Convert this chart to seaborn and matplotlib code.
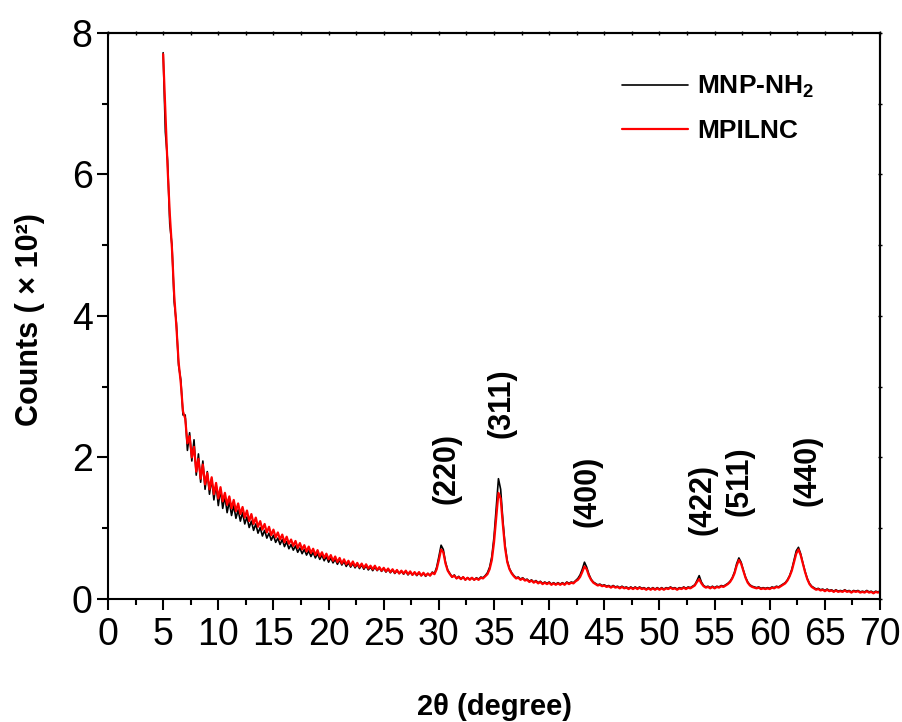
import numpy as np
import pandas as pd
import matplotlib
matplotlib.use('Agg')
import matplotlib.pyplot as plt
import seaborn as sns
from matplotlib.ticker import MultipleLocator

# scan grid of the diffractometer (2theta, degree)
two_theta = np.round(np.arange(5.0, 70.01, 0.2), 1)

# counts (x 10^2), 5 points per degree
mnp_nh2 = [
    7.72, 6.60, 6.20, 5.30, 5.00,  4.20, 3.90, 3.30, 3.10, 2.60,
    2.60, 2.10, 2.35, 1.95, 2.25,  1.75, 2.05, 1.65, 1.95, 1.55,
    1.80, 1.48, 1.70, 1.40, 1.62,  1.32, 1.55, 1.28, 1.45, 1.22,
    1.38, 1.18, 1.32, 1.14, 1.26,  1.10, 1.22, 1.06, 1.16, 1.01,
    1.10, 0.97, 1.06, 0.93, 1.01,  0.89, 0.97, 0.86, 0.93, 0.83,
    0.90, 0.80, 0.86, 0.77, 0.84,  0.74, 0.81, 0.71, 0.77, 0.69,
    0.75, 0.66, 0.72, 0.64, 0.70,  0.62, 0.68, 0.60, 0.66, 0.58,
    0.64, 0.56, 0.62, 0.54, 0.60,  0.52, 0.58, 0.51, 0.56, 0.49,
    0.55, 0.48, 0.53, 0.46, 0.51,  0.45, 0.50, 0.44, 0.49, 0.43,
    0.48, 0.42, 0.47, 0.41, 0.45,  0.40, 0.45, 0.40, 0.44, 0.39,
    0.43, 0.38, 0.42, 0.37, 0.41,  0.36, 0.40, 0.36, 0.39, 0.35,
    0.39, 0.34, 0.38, 0.34, 0.37,  0.33, 0.37, 0.33, 0.36, 0.32,
    0.36, 0.33, 0.38, 0.36, 0.45,  0.60, 0.76, 0.70, 0.52, 0.41,
    0.36, 0.31, 0.34, 0.29, 0.32,  0.28, 0.31, 0.27, 0.30, 0.28,
    0.30, 0.27, 0.30, 0.28, 0.31,  0.30, 0.33, 0.37, 0.45, 0.60,
    0.88, 1.28, 1.70, 1.55, 1.12,  0.76, 0.54, 0.43, 0.37, 0.33,
    0.30, 0.31, 0.28, 0.30, 0.27,  0.28, 0.25, 0.27, 0.24, 0.26,
    0.23, 0.25, 0.22, 0.24, 0.22,  0.24, 0.21, 0.23, 0.21, 0.23,
    0.21, 0.23, 0.21, 0.24, 0.22,  0.24, 0.23, 0.26, 0.29, 0.34,
    0.42, 0.52, 0.45, 0.35, 0.28,  0.24, 0.22, 0.20, 0.21, 0.19,
    0.20, 0.18, 0.19, 0.17, 0.19,  0.17, 0.18, 0.16, 0.18, 0.16,
    0.17, 0.15, 0.17, 0.15, 0.17,  0.15, 0.17, 0.15, 0.16, 0.14,
    0.16, 0.14, 0.16, 0.14, 0.16,  0.14, 0.16, 0.14, 0.16, 0.15,
    0.17, 0.15, 0.16, 0.14, 0.16,  0.15, 0.17, 0.15, 0.17, 0.16,
    0.18, 0.20, 0.26, 0.33, 0.24,  0.19, 0.17, 0.18, 0.16, 0.18,
    0.16, 0.18, 0.17, 0.19, 0.18,  0.20, 0.22, 0.25, 0.30, 0.38,
    0.50, 0.58, 0.52, 0.41, 0.31,  0.24, 0.20, 0.18, 0.17, 0.16,
    0.17, 0.15, 0.16, 0.15, 0.16,  0.15, 0.17, 0.16, 0.18, 0.17,
    0.19, 0.21, 0.23, 0.27, 0.33,  0.42, 0.55, 0.68, 0.73, 0.64,
    0.51, 0.39, 0.29, 0.22, 0.18,  0.16, 0.14, 0.15, 0.13, 0.14,
    0.12, 0.14, 0.12, 0.13, 0.11,  0.13, 0.11, 0.12, 0.11, 0.13,
    0.11, 0.12, 0.10, 0.12, 0.11,  0.12, 0.10, 0.11, 0.10, 0.12,
    0.10, 0.11, 0.09, 0.11, 0.10,  0.11,
]

mpilnc = [
    7.70, 6.90, 6.10, 5.45, 4.95,  4.30, 3.85, 3.35, 3.05, 2.65,
    2.55, 2.20, 2.30, 2.00, 2.15,  1.80, 1.98, 1.70, 1.90, 1.62,
    1.78, 1.55, 1.72, 1.48, 1.64,  1.42, 1.58, 1.38, 1.50, 1.33,
    1.45, 1.28, 1.40, 1.24, 1.35,  1.20, 1.30, 1.15, 1.25, 1.10,
    1.20, 1.06, 1.15, 1.02, 1.10,  0.98, 1.06, 0.94, 1.02, 0.90,
    0.98, 0.87, 0.94, 0.84, 0.91,  0.80, 0.88, 0.78, 0.84, 0.75,
    0.82, 0.72, 0.79, 0.70, 0.76,  0.67, 0.74, 0.65, 0.71, 0.62,
    0.69, 0.60, 0.66, 0.58, 0.64,  0.56, 0.62, 0.54, 0.60, 0.52,
    0.58, 0.50, 0.56, 0.49, 0.54,  0.47, 0.53, 0.46, 0.51, 0.45,
    0.50, 0.44, 0.49, 0.43, 0.47,  0.42, 0.47, 0.41, 0.45, 0.40,
    0.44, 0.39, 0.43, 0.38, 0.42,  0.37, 0.41, 0.36, 0.40, 0.36,
    0.40, 0.35, 0.39, 0.34, 0.38,  0.34, 0.38, 0.33, 0.37, 0.33,
    0.36, 0.33, 0.37, 0.35, 0.42,  0.55, 0.70, 0.66, 0.50, 0.40,
    0.35, 0.31, 0.33, 0.29, 0.31,  0.28, 0.31, 0.27, 0.30, 0.27,
    0.30, 0.27, 0.29, 0.27, 0.30,  0.29, 0.32, 0.35, 0.42, 0.55,
    0.80, 1.15, 1.50, 1.42, 1.05,  0.72, 0.52, 0.42, 0.36, 0.32,
    0.29, 0.30, 0.27, 0.29, 0.26,  0.27, 0.24, 0.26, 0.23, 0.25,
    0.22, 0.24, 0.21, 0.23, 0.21,  0.23, 0.20, 0.22, 0.20, 0.22,
    0.20, 0.22, 0.20, 0.23, 0.21,  0.23, 0.22, 0.25, 0.27, 0.31,
    0.38, 0.46, 0.42, 0.33, 0.27,  0.23, 0.21, 0.19, 0.20, 0.18,
    0.19, 0.17, 0.18, 0.16, 0.18,  0.16, 0.17, 0.15, 0.17, 0.15,
    0.16, 0.14, 0.16, 0.14, 0.16,  0.14, 0.16, 0.14, 0.15, 0.13,
    0.15, 0.13, 0.15, 0.13, 0.15,  0.13, 0.15, 0.13, 0.15, 0.14,
    0.16, 0.14, 0.15, 0.13, 0.15,  0.14, 0.16, 0.14, 0.16, 0.15,
    0.17, 0.19, 0.24, 0.28, 0.22,  0.18, 0.16, 0.17, 0.15, 0.17,
    0.15, 0.17, 0.16, 0.18, 0.17,  0.19, 0.21, 0.24, 0.29, 0.36,
    0.47, 0.55, 0.50, 0.40, 0.30,  0.23, 0.19, 0.17, 0.16, 0.15,
    0.16, 0.14, 0.15, 0.14, 0.15,  0.14, 0.16, 0.15, 0.17, 0.16,
    0.18, 0.20, 0.22, 0.26, 0.32,  0.40, 0.52, 0.64, 0.70, 0.62,
    0.50, 0.38, 0.28, 0.21, 0.17,  0.15, 0.13, 0.14, 0.12, 0.13,
    0.11, 0.13, 0.11, 0.12, 0.10,  0.12, 0.10, 0.11, 0.10, 0.12,
    0.10, 0.11, 0.09, 0.11, 0.10,  0.11, 0.09, 0.10, 0.09, 0.11,
    0.09, 0.10, 0.08, 0.10, 0.09,  0.10,
]

# Miller indices of the spinel reflections and where their labels sit
peak_labels = ['(220)', '(311)', '(400)', '(422)', '(511)', '(440)']
peak_x = [30.7, 35.7, 43.5, 53.9, 57.3, 63.4]
peak_y = [1.34, 2.28, 1.02, 0.91, 1.17, 1.31]

df = pd.DataFrame({'two_theta': two_theta, 'MNP-NH2': mnp_nh2, 'MPILNC': mpilnc})

sns.set_style("ticks")
plt.rcParams['font.family'] = ['Liberation Sans', 'DejaVu Sans']
plt.rcParams['mathtext.default'] = 'regular'
plt.rcParams['text.color'] = 'black'
plt.rcParams['axes.labelcolor'] = 'black'
plt.rcParams['xtick.color'] = 'black'
plt.rcParams['ytick.color'] = 'black'

fig = plt.figure(figsize=(9.03, 7.22), dpi=100)
ax = fig.add_axes([0.1196, 0.1704, 0.855, 0.784])

sns.lineplot(data=df, x='two_theta', y='MNP-NH2', color='black', lw=1.2,
             label='MNP-NH$_2$', ax=ax)
sns.lineplot(data=df, x='two_theta', y='MPILNC', color='#ff0000', lw=1.6,
             label='MPILNC', ax=ax)

for lab, px, py in zip(peak_labels, peak_x, peak_y):
    ax.text(px, py, lab, rotation=90, ha='center', va='bottom',
            fontsize=22, fontweight='bold', color='black')

ax.set_xlim(0, 70)
ax.set_ylim(0, 8)
ax.set_xticks(range(0, 71, 5))
ax.set_yticks(range(0, 9, 2))
ax.xaxis.set_minor_locator(MultipleLocator(2.5))
ax.yaxis.set_minor_locator(MultipleLocator(1))

for s in ax.spines.values():
    s.set_visible(True)
    s.set_linewidth(1.5)
    s.set_color('black')

ax.tick_params(which='major', direction='out', length=8, width=1.5, pad=3,
               labelsize=27, colors='black')
ax.tick_params(which='minor', direction='out', length=4.5, width=1.5)
ax.tick_params(axis='x', pad=5)

# tiny ticks on top and right frame
top = ax.secondary_xaxis('top')
top.set_xticks(range(0, 71, 5))
top.xaxis.set_minor_locator(MultipleLocator(2.5))
top.tick_params(which='both', direction='inout', length=3, width=1, labeltop=False)
top.spines['top'].set_linewidth(1.5)
right = ax.secondary_yaxis('right')
right.set_yticks(range(0, 9, 2))
right.yaxis.set_minor_locator(MultipleLocator(1))
right.tick_params(which='both', direction='inout', length=3, width=1, labelright=False)
right.spines['right'].set_linewidth(1.5)

ax.set_xlabel('2θ (degree)', fontsize=21, fontweight='bold', color='black')
ax.set_ylabel('Counts ( × 10²)', fontsize=22, fontweight='bold', color='black')
ax.xaxis.set_label_coords(0.5, -0.166)
ax.yaxis.set_label_coords(-0.081, 0.494)

leg = ax.legend(loc='upper left', bbox_to_anchor=(0.649, 0.951), frameon=False,
                borderpad=0, handlelength=2.5, handletextpad=0.35,
                labelspacing=0.72, prop={'weight': 'bold', 'size': 19})

plt.savefig('out.png', dpi=100)
